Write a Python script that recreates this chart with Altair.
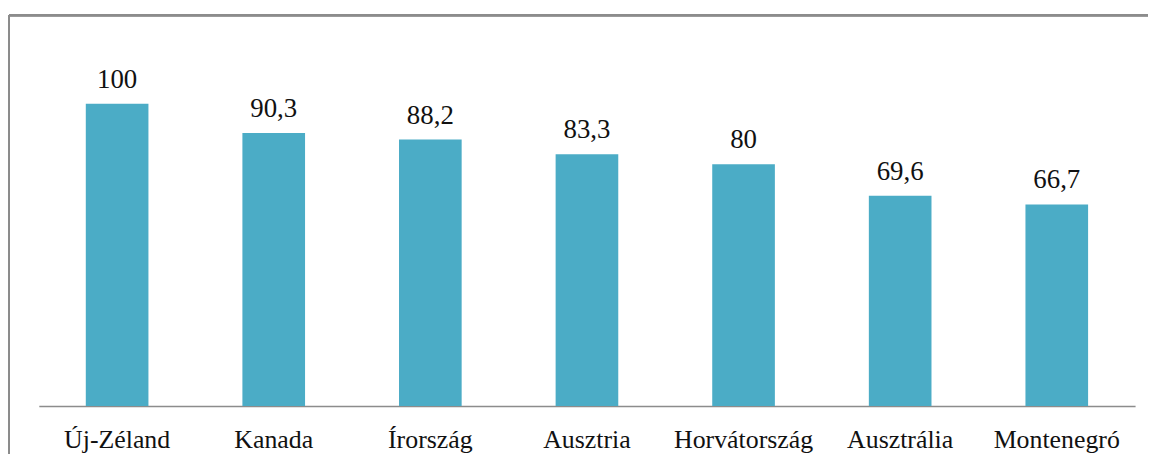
import altair as alt
import pandas as pd

countries = ["Új-Zéland", "Kanada", "Írország", "Ausztria", "Horvátország", "Ausztrália", "Montenegró"]
values = [100, 90.3, 88.2, 83.3, 80, 69.6, 66.7]
labels = ["100", "90,3", "88,2", "83,3", "80", "69,6", "66,7"]

df = pd.DataFrame({"country": countries, "value": values, "label": labels})

W = 1146
H = 440
FONT = "Liberation Serif"

x = alt.X("country:N", sort=countries, title=None,
          scale=alt.Scale(range=[30, 1133], paddingInner=0.6, paddingOuter=0.3),
          axis=alt.Axis(offset=-47, domainColor="#8c8c8c", domainWidth=1.5, ticks=False,
                        labelAngle=0, labelFont=FONT, labelFontSize=26,
                        labelColor="#111", labelPadding=21, labelBaseline="top"))
y = alt.Y("value:Q", title=None, axis=None,
          scale=alt.Scale(domain=[0, 100], range=[393, 89], nice=False, zero=True))

bars = alt.Chart(df).mark_bar(color="#4BACC6").encode(x=x, y=y)
text = alt.Chart(df).mark_text(baseline="alphabetic", dy=-16, font=FONT,
                               fontSize=27, color="#111").encode(x=x, y=y, text="label:N")

top_border = alt.Chart(df).mark_rule(color="#8c8c8c", strokeWidth=2).encode(
    x=alt.value(0), x2=alt.value(W + 20), y=alt.value(0))
left_border = alt.Chart(df).mark_rule(color="#8c8c8c", strokeWidth=2).encode(
    x=alt.value(0), y=alt.value(0), y2=alt.value(H + 20))

chart = alt.layer(bars, text, top_border, left_border).properties(
    width=W, height=H,
    autosize=alt.AutoSizeParams(type="none"),
    padding={"left": 1, "top": 6, "right": 0, "bottom": 0},
).configure_view(stroke=None)

chart.save("out.html", embed_options={"renderer": "svg", "actions": False})
